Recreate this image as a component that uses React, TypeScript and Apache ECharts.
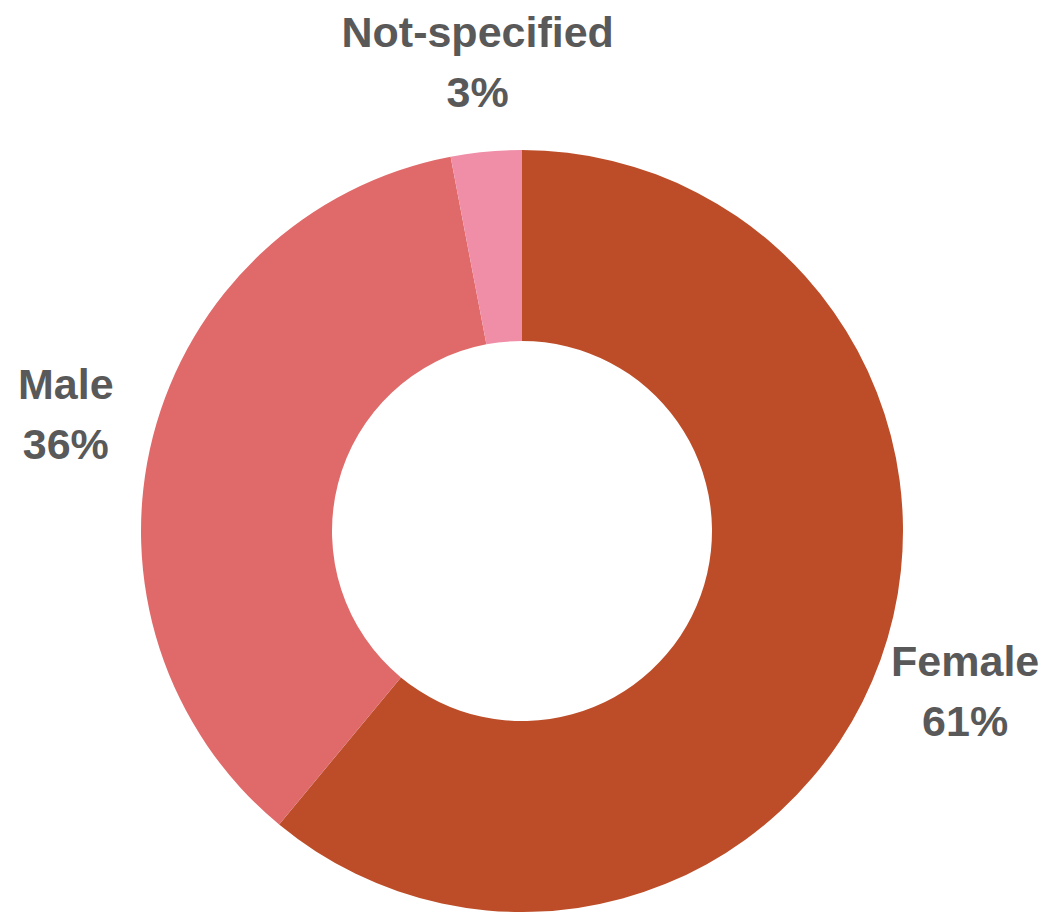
import React, { useEffect, useRef } from "react";
import * as echarts from "echarts";

const categories = ["Female", "Male", "Not-specified"];
const values = [61, 36, 3];
const colors = ["#BD4D28", "#E06A6A", "#F08EA8"];

const CX = 522;
const CY = 531;
const R_OUT = 381;
const R_IN = 190;
const LABEL_R = 471;

export default function App() {
  const ref = useRef<HTMLDivElement>(null);
  useEffect(() => {
    document.body.style.margin = "0";
    const chart = echarts.init(ref.current!, null, { renderer: "svg" });
    const total = values.reduce((a, b) => a + b, 0);
    const mids: number[] = [];
    let acc = 0;
    values.forEach((v) => {
      mids.push(((acc + v / 2) / total) * Math.PI * 2);
      acc += v;
    });
    chart.setOption({
      animation: false,
      backgroundColor: "#ffffff",
      series: [
        {
          type: "pie",
          center: [CX, CY],
          radius: [R_IN, R_OUT],
          startAngle: 90,
          clockwise: true,
          avoidLabelOverlap: false,
          data: categories.map((c, i) => ({
            name: c,
            value: values[i],
            itemStyle: { color: colors[i] },
          })),
          label: {
            show: true,
            position: "outside",
            alignTo: "none",
            overflow: "none",
            bleedMargin: 0,
            formatter: (p: any) => `${p.name}\n${Math.round(p.percent)}%`,
            fontFamily: "Liberation Sans, Arial, sans-serif",
            fontWeight: "bold",
            fontSize: 43,
            lineHeight: 60,
            color: "#595959",
            align: "center",
          },
          labelLine: { show: false },
          labelLayout: (params: any) => {
            const a = mids[params.dataIndex];
            return {
              x: CX + LABEL_R * Math.sin(a),
              y: CY - LABEL_R * Math.cos(a),
              align: "center",
              verticalAlign: "middle",
            };
          },
          emphasis: { disabled: true },
        },
      ],
    });
    return () => chart.dispose();
  }, []);
  return <div ref={ref} style={{ width: 1046, height: 912 }} />;
}
